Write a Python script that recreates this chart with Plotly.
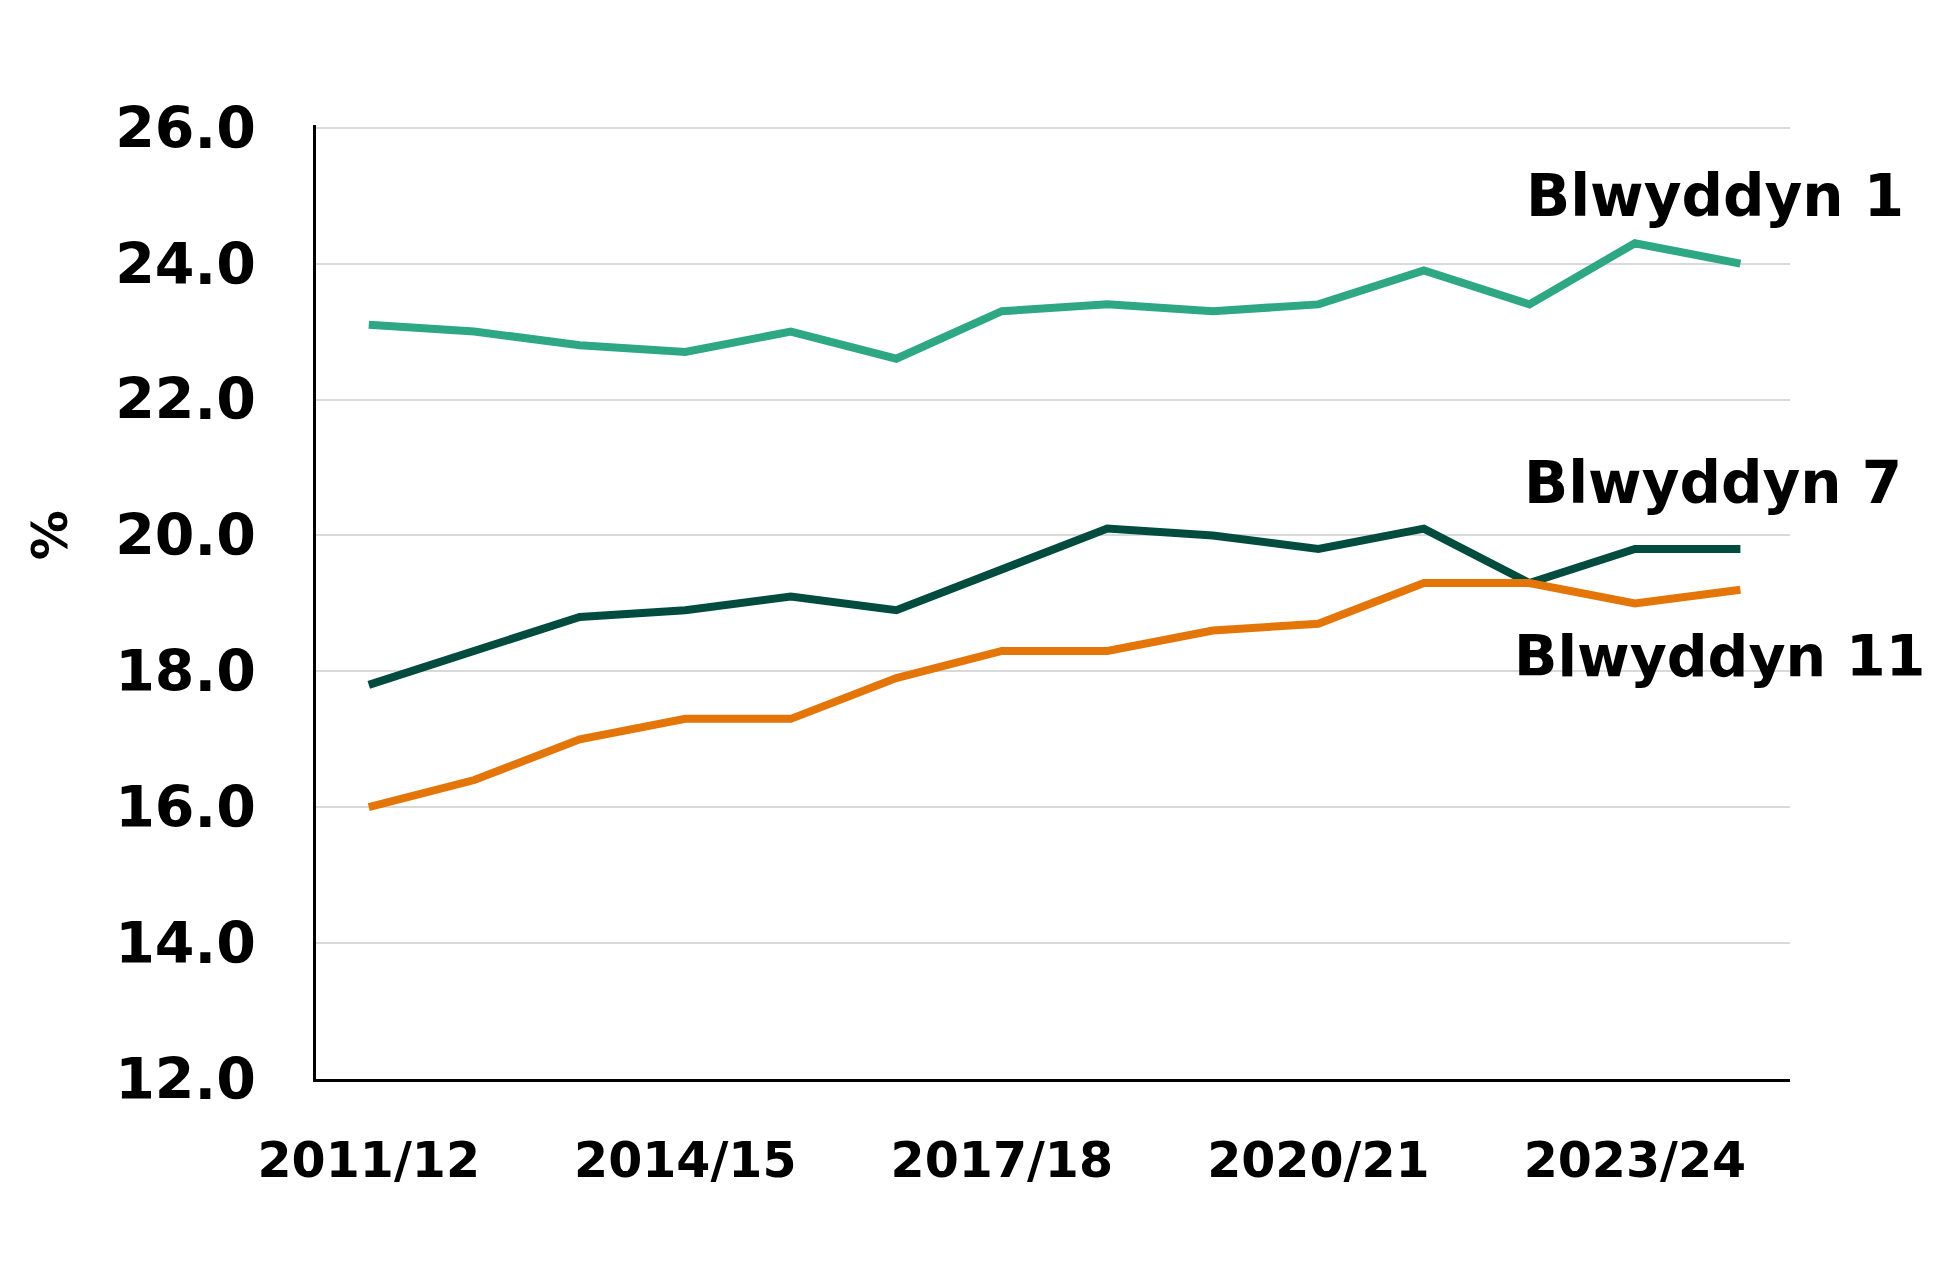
import plotly.graph_objects as go

years = ["2011/12", "2012/13", "2013/14", "2014/15", "2015/16", "2016/17", "2017/18",
         "2018/19", "2019/20", "2020/21", "2021/22", "2022/23", "2023/24", "2024/25"]
blwyddyn_1 = [23.1, 23.0, 22.8, 22.7, 23.0, 22.6, 23.3, 23.4, 23.3, 23.4, 23.9, 23.4, 24.3, 24.0]
blwyddyn_7 = [17.8, 18.3, 18.8, 18.9, 19.1, 18.9, 19.5, 20.1, 20.0, 19.8, 20.1, 19.3, 19.8, 19.8]
blwyddyn_11 = [16.0, 16.4, 17.0, 17.3, 17.3, 17.9, 18.3, 18.3, 18.6, 18.7, 19.3, 19.3, 19.0, 19.2]
y_ticks = [12, 14, 16, 18, 20, 22, 24, 26]
x_tick_labels = ["2011/12", "2014/15", "2017/18", "2020/21", "2023/24"]

FONT = "DejaVu Sans"
idx = list(range(len(years)))

series = [
    ("Blwyddyn 1", blwyddyn_1, "#2ea784"),
    ("Blwyddyn 7", blwyddyn_7, "#024c3f"),
    ("Blwyddyn 11", blwyddyn_11, "#e47609"),
]

fig = go.Figure()
for name, vals, col in series:
    fig.add_trace(go.Scatter(x=idx, y=vals, mode="lines", name=name,
                             line=dict(color=col, width=8), hoverinfo="skip"))

tick_idx = [years.index(t) for t in x_tick_labels]

fig.update_layout(
    width=1942, height=1262,
    margin=dict(l=316, r=152, t=125, b=183),
    paper_bgcolor="white", plot_bgcolor="white",
    showlegend=False,
    font=dict(family=FONT, color="black", size=52, weight=700),
    xaxis=dict(range=[-0.5, 13.47], tickvals=tick_idx, ticktext=x_tick_labels,
               showgrid=False, zeroline=False, showline=True, linecolor="black",
               linewidth=2.5, ticks="", ticklabelstandoff=36,
               tickfont=dict(family=FONT, size=49, weight=700, color="black")),
    yaxis=dict(range=[12, 26.04], tickvals=y_ticks, tickformat=".1f",
               showgrid=True, gridcolor="#d9d9d9", gridwidth=2,
               zeroline=False, showline=True, linecolor="black", linewidth=2.5,
               ticks="", ticklabelstandoff=46,
               tickfont=dict(family=FONT, size=57, weight=700, color="black")),
)

labels = [("Blwyddyn 1", 0.949, 25.0), ("Blwyddyn 7", 0.948, 20.77), ("Blwyddyn 11", 0.952, 18.22)]
for text, xp, yv in labels:
    fig.add_annotation(text=text, xref="paper", yref="y", x=xp, y=yv, showarrow=False,
                       xanchor="center", yanchor="middle",
                       font=dict(family=FONT, size=58 if text != "Blwyddyn 11" else 57,
                                 weight=700, color="black"))

fig.add_annotation(text="%", xref="paper", yref="y", x=-0.1805, y=20.0, showarrow=False,
                   textangle=-90, xanchor="center", yanchor="middle",
                   font=dict(family=FONT, size=50, weight=700, color="black"))

fig.write_html("out.html")
